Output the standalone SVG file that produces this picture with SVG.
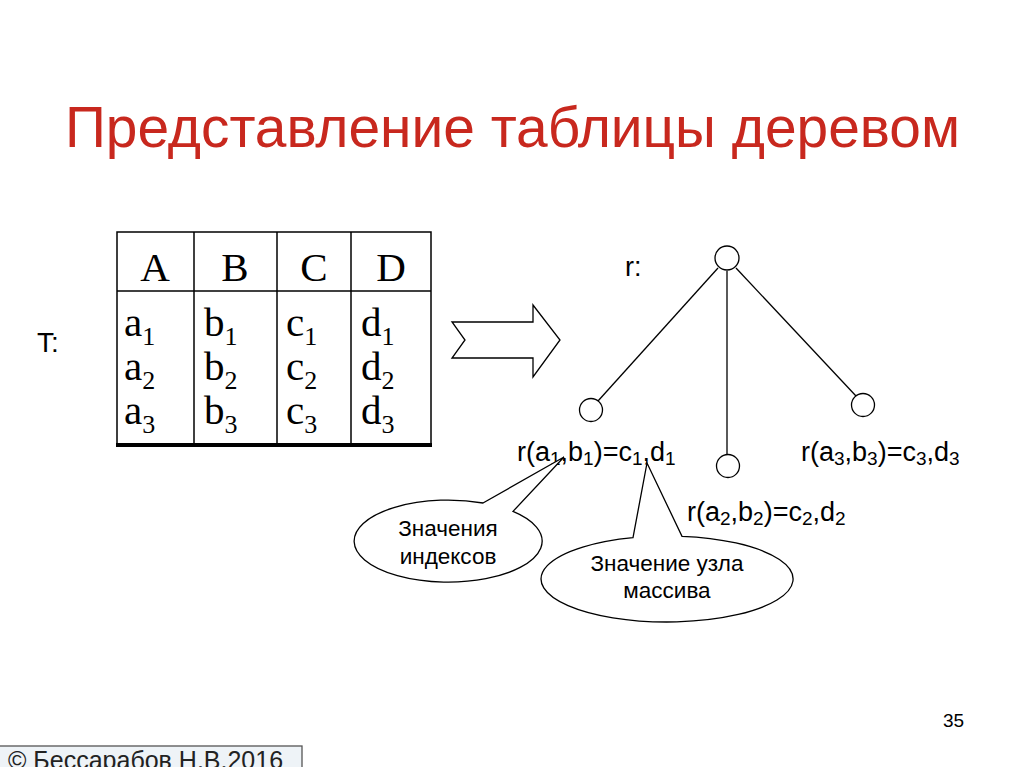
<svg xmlns="http://www.w3.org/2000/svg" width="1024" height="767" viewBox="0 0 1024 767">
<style>
.ti{font-family:"Liberation Sans",Arial,sans-serif;font-size:58px;fill:#c8281e}
.tm{font-family:"Liberation Serif","Times New Roman",serif;font-size:41px;fill:#000}
.sb{font-size:26px}
.ar{font-family:"Liberation Sans",Arial,sans-serif;font-size:27px;fill:#000}
.ars{font-size:19px}
.cl{font-family:"Liberation Sans",Arial,sans-serif;font-size:22.5px;fill:#000;text-anchor:middle}
.ln{stroke:#000;stroke-width:1.3;fill:none}
.nd{stroke:#000;stroke-width:1.3;fill:#fff}
</style>
<rect width="1024" height="767" fill="#fff"/>
<text class="ti" x="65" y="147" textLength="895" lengthAdjust="spacingAndGlyphs">Представление таблицы деревом</text>

<g id="table">
<rect x="117" y="232" width="314" height="213" fill="none" stroke="#000" stroke-width="1.5"/>
<line x1="117" y1="291" x2="431" y2="291" stroke="#000" stroke-width="1.5"/>
<line x1="194" y1="232" x2="194" y2="445" stroke="#000" stroke-width="1.5"/>
<line x1="277" y1="232" x2="277" y2="445" stroke="#000" stroke-width="1.5"/>
<line x1="351" y1="232" x2="351" y2="445" stroke="#000" stroke-width="1.5"/>
<line x1="116" y1="445" x2="432" y2="445" stroke="#000" stroke-width="4"/>
<g class="tm" text-anchor="middle">
<text x="155" y="281">A</text><text x="235" y="281">B</text><text x="314" y="281">C</text><text x="391" y="281">D</text>
</g>
<g class="tm">
<text x="124" y="336">a<tspan class="sb" dy="9">1</tspan></text>
<text x="124" y="380">a<tspan class="sb" dy="9">2</tspan></text>
<text x="124" y="424">a<tspan class="sb" dy="9">3</tspan></text>
<text x="204" y="336">b<tspan class="sb" dy="9">1</tspan></text>
<text x="204" y="380">b<tspan class="sb" dy="9">2</tspan></text>
<text x="204" y="424">b<tspan class="sb" dy="9">3</tspan></text>
<text x="286" y="336">c<tspan class="sb" dy="9">1</tspan></text>
<text x="286" y="380">c<tspan class="sb" dy="9">2</tspan></text>
<text x="286" y="424">c<tspan class="sb" dy="9">3</tspan></text>
<text x="361" y="336">d<tspan class="sb" dy="9">1</tspan></text>
<text x="361" y="380">d<tspan class="sb" dy="9">2</tspan></text>
<text x="361" y="424">d<tspan class="sb" dy="9">3</tspan></text>
</g>
</g>
<text id="tlabel" class="ar" x="37" y="352" style="font-size:28px">T:</text>

<g id="arrow">
<polygon points="452,322 533,322 533,305 560,340 533,377 533,358 452,358 465,340" fill="#fff" stroke="#000" stroke-width="1.3"/>
</g>

<g id="connectors">
<line class="ln" x1="718" y1="268" x2="598" y2="401"/>
<line class="ln" x1="727" y1="271" x2="727" y2="455"/>
<line class="ln" x1="736" y1="268" x2="856" y2="396"/>
</g>

<text class="ar" x="625" y="276">r:</text>
<g id="root"><circle class="nd" cx="727" cy="258" r="12"/></g>
<g id="n1"><circle class="nd" cx="591" cy="410" r="11.5"/>
<text class="ar" x="517" y="461">r(a<tspan class="ars" dy="4">1</tspan><tspan dy="-4">,b</tspan><tspan class="ars" dy="4">1</tspan><tspan dy="-4">)=c</tspan><tspan class="ars" dy="4">1</tspan><tspan dy="-4">,d</tspan><tspan class="ars" dy="4">1</tspan></text>
</g>
<g id="n2"><circle class="nd" cx="728" cy="466" r="11.5"/>
<text class="ar" x="687" y="521">r(a<tspan class="ars" dy="4">2</tspan><tspan dy="-4">,b</tspan><tspan class="ars" dy="4">2</tspan><tspan dy="-4">)=c</tspan><tspan class="ars" dy="4">2</tspan><tspan dy="-4">,d</tspan><tspan class="ars" dy="4">2</tspan></text>
</g>
<g id="n3"><circle class="nd" cx="863" cy="405" r="11.5"/>
<text class="ar" x="801" y="461">r(a<tspan class="ars" dy="4">3</tspan><tspan dy="-4">,b</tspan><tspan class="ars" dy="4">3</tspan><tspan dy="-4">)=c</tspan><tspan class="ars" dy="4">3</tspan><tspan dy="-4">,d</tspan><tspan class="ars" dy="4">3</tspan></text>
</g>

<g id="callout1">
<path class="nd" d="M 483,503 L 564,457 L 513,511.4 A 94 41 0 1 1 483,503 Z"/>
<text class="cl" x="448" y="536">Значения</text>
<text class="cl" x="448" y="564">индексов</text>
</g>
<g id="callout2">
<path class="nd" d="M 633,537.6 L 647,463 L 682,536.3 A 126 43 0 1 1 633,537.6 Z"/>
<text class="cl" x="667" y="571">Значение узла</text>
<text class="cl" x="667" y="598">массива</text>
</g>

<text class="ar" x="943" y="727" style="font-size:19px">35</text>

<g id="footer">
<rect x="-1" y="746" width="303" height="25" fill="#eef3f7" stroke="#555" stroke-width="1.3"/>
<text class="ar" x="8" y="769" style="font-size:25px;fill:#222">© Бессарабов Н.В.2016</text>
</g>
</svg>
